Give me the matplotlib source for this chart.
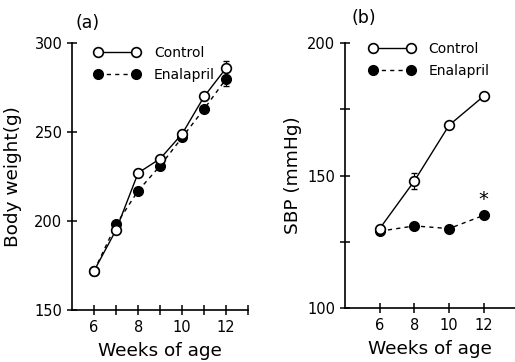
import matplotlib
matplotlib.use("Agg")
import matplotlib.pyplot as plt

weeks_a = [6, 7, 8, 9, 10, 11, 12]
bw_control = [172, 195, 227, 235, 249, 270, 286]
bw_enalapril = [172, 198, 217, 231, 247, 263, 280]
bw_control_err = [1, 1, 1, 1, 1, 2, 4]
bw_enalapril_err = [1, 1, 1, 1, 1, 1, 4]

weeks_b = [6, 8, 10, 12]
sbp_control = [130, 148, 169, 180]
sbp_enalapril = [129, 131, 130, 135]
sbp_control_err = [1, 3, 1, 1]
sbp_enalapril_err = [1, 1, 1, 1]

plt.rcParams['font.family'] = ['DejaVu Sans']
fig = plt.figure(figsize=(5.15, 3.62), dpi=100)

axa = fig.add_axes([0.140, 0.144, 0.342, 0.737])
axb = fig.add_axes([0.670, 0.149, 0.330, 0.732])

def style(ax):
    for s in ['top', 'right']:
        ax.spines[s].set_visible(False)
    for s in ['left', 'bottom']:
        ax.spines[s].set_linewidth(1.2)
    ax.tick_params(direction='inout', length=7, width=1.1, labelsize=10.5)
    ax.tick_params(which='minor', direction='inout', length=7, width=1.1)

def plot_pair(ax, x, c, e, ce, ee):
    ax.errorbar(x, c, yerr=ce, fmt='none', ecolor='black', elinewidth=0.8, capsize=2, zorder=2)
    ax.errorbar(x, e, yerr=ee, fmt='none', ecolor='black', elinewidth=0.8, capsize=2, zorder=2)
    ax.plot(x, c, '-', color='black', lw=1.0, marker='o', ms=7, mfc='white', mec='black', mew=1.2, zorder=4, label='Control')
    ax.plot(x, e, '--', color='black', lw=1.0, marker='o', ms=7, mfc='black', mec='black', zorder=3, label='Enalapril', dashes=(3, 3))

leg_kw = dict(loc='upper left', frameon=False, numpoints=2, handlelength=3.3, fontsize=10,
              handletextpad=1.0, labelspacing=0.6, borderaxespad=0)

# (a)
style(axa)
plot_pair(axa, weeks_a, bw_control, bw_enalapril, bw_control_err, bw_enalapril_err)
axa.set_xlim(5, 13)
axa.set_ylim(150, 300)
axa.set_xticks(range(6, 14))
axa.set_xticklabels(['6', '', '8', '', '10', '', '12', ''])
axa.set_yticks([150, 200, 250, 300])
axa.set_xlabel('Weeks of age', fontsize=13.3, labelpad=5)
axa.set_ylabel('Body weight(g)', fontsize=13.3, labelpad=9)
axa.text(0.017, 1.04, '(a)', transform=axa.transAxes, fontsize=12.5, ha='left', va='bottom')
axa.legend(bbox_to_anchor=(0.094, 1.01), **leg_kw)

# (b)
style(axb)
plot_pair(axb, weeks_b, sbp_control, sbp_enalapril, sbp_control_err, sbp_enalapril_err)
axb.set_xlim(4, 13.8)
axb.set_ylim(100, 200)
axb.set_xticks([6, 8, 10, 12])
axb.set_yticks([100, 150, 200])
axb.set_yticks([125, 175], minor=True)
axb.set_xlabel('Weeks of age', fontsize=13.3, labelpad=5)
axb.set_ylabel('SBP (mmHg)', fontsize=13.3, labelpad=4)
axb.text(12, 137.5, '*', fontsize=14, ha='center', va='bottom')
axb.text(0.04, 1.06, '(b)', transform=axb.transAxes, fontsize=12.5, ha='left', va='bottom')
axb.legend(bbox_to_anchor=(0.108, 1.025), **leg_kw)

fig.savefig('out.png', dpi=100)
